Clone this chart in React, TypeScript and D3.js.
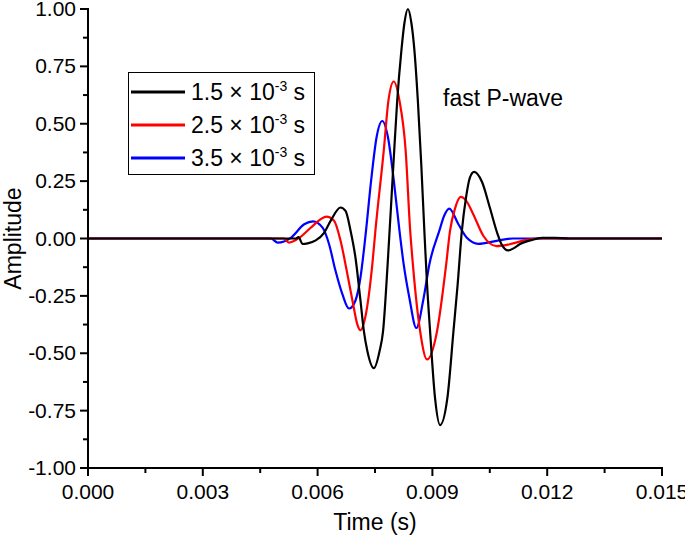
import React, { useEffect, useRef } from 'react';
import * as d3 from 'd3';

// time (s), amplitude
const wave15: [number, number][] = [
    [0, 0], [0.00478, 0], [0.00543, 0], [0.0055, 0.006], [0.00561, -0.024], [0.00574, -0.021],
    [0.00595, -0.008], [0.00617, 0.025], [0.00634, 0.077], [0.0066, 0.135], [0.00673, 0.12],
    [0.00686, 0.035], [0.00699, -0.084], [0.00712, -0.27], [0.00721, -0.405], [0.0073, -0.49],
    [0.00747, -0.565], [0.00762, -0.49], [0.00771, -0.405], [0.00783, -0.113], [0.00798, 0.32],
    [0.00808, 0.6], [0.00819, 0.82], [0.00827, 0.94], [0.00836, 1.0], [0.00845, 0.94],
    [0.00853, 0.82], [0.00862, 0.6], [0.00871, 0.32], [0.00879, 0.033], [0.00886, -0.2],
    [0.00894, -0.405], [0.00907, -0.697], [0.0092, -0.813], [0.00939, -0.697], [0.00955, -0.405],
    [0.00966, -0.2], [0.00977, 0.033], [0.00988, 0.18], [0.00998, 0.265], [0.01009, 0.29],
    [0.0103, 0.245], [0.0105, 0.135], [0.01071, 0.016], [0.01081, -0.026],
    [0.01098, -0.052], [0.01113, -0.042], [0.01128, -0.025], [0.01163, -0.005], [0.01188, 0.003],
    [0.01219, 0.003], [0.01258, 0], [0.015, 0]
];

const wave25: [number, number][] = [
    [0, 0], [0.00512, 0], [0.00525, -0.018], [0.00552, 0.003], [0.00582, 0.047], [0.00608, 0.084],
    [0.00623, 0.095], [0.00643, 0.077], [0.0066, -0.01], [0.00678, -0.157], [0.00691, -0.27],
    [0.00704, -0.375], [0.00712, -0.4], [0.00725, -0.34], [0.00743, -0.113], [0.00751, 0.033],
    [0.00773, 0.385], [0.00785, 0.6], [0.00799, 0.684], [0.00814, 0.6], [0.0083, 0.385],
    [0.00842, 0.033], [0.00849, -0.113], [0.00868, -0.405], [0.00886, -0.527], [0.00912, -0.405],
    [0.00936, -0.113], [0.00946, 0.033], [0.00959, 0.13], [0.00974, 0.181], [0.00988, 0.165],
    [0.01007, 0.105], [0.01033, 0.012], [0.01068, -0.033], [0.01102, -0.025], [0.01146, -0.006],
    [0.0118, 0], [0.015, 0]
];

const wave35: [number, number][] = [
    [0, 0], [0.00478, 0], [0.00496, -0.018], [0.0053, 0.003], [0.00565, 0.062], [0.00588, 0.075],
    [0.00613, 0.047], [0.0063, -0.025], [0.00647, -0.142], [0.00665, -0.244], [0.00682, -0.305],
    [0.00699, -0.27], [0.00712, -0.17], [0.00725, 0.01], [0.0074, 0.254], [0.00754, 0.44],
    [0.00769, 0.512], [0.00784, 0.44], [0.00799, 0.254], [0.00814, 0.033], [0.00825, -0.113],
    [0.0084, -0.26], [0.00858, -0.39], [0.00877, -0.26], [0.00892, -0.113], [0.00918, 0.033],
    [0.00931, 0.1], [0.00944, 0.13], [0.00968, 0.062], [0.0099, 0.003], [0.0102, -0.023],
    [0.01068, -0.01], [0.0111, 0], [0.015, 0]
];

const seriesNames = ["1.5", "2.5", "3.5"];
const seriesColors = ["#000000", "#ff0000", "#0000ff"];
const seriesData = [wave15, wave25, wave35];

const xTicks = [0, 0.003, 0.006, 0.009, 0.012, 0.015];
const yTicks = [-1, -0.75, -0.5, -0.25, 0, 0.25, 0.5, 0.75, 1];

export default function App() {
    const chartRef = useRef<SVGSVGElement>(null);

    useEffect(() => {
        if (!chartRef.current) return;
        const svg = d3.select(chartRef.current);
        svg.selectAll("*").remove();

        const font = "'Liberation Sans', Arial, sans-serif";
        const left = 88, right = 662, top = 9, bottom = 468;

        const x = d3.scaleLinear().domain([0, 0.015]).range([left, right]);
        const y = d3.scaleLinear().domain([-1, 1]).range([bottom, top]);

        const line = d3.line<[number, number]>()
            .x(d => x(d[0]))
            .y(d => y(d[1]))
            .curve(d3.curveMonotoneX);

        // draw order: blue, red, black on top
        [2, 1, 0].forEach(i => {
            svg.append("path")
                .datum(seriesData[i])
                .attr("d", line)
                .attr("fill", "none")
                .attr("stroke", seriesColors[i])
                .attr("stroke-width", 2.2)
                .attr("stroke-linejoin", "round");
        });

        // minor ticks
        const xMinor = d3.range(0.0015, 0.015, 0.003);
        const yMinor = d3.range(-0.875, 1, 0.25);

        const axes = svg.append("g").attr("stroke", "#000").attr("stroke-width", 2);
        axes.append("line").attr("x1", left).attr("x2", right + 1).attr("y1", bottom).attr("y2", bottom);
        axes.append("line").attr("x1", left).attr("x2", left).attr("y1", top - 1).attr("y2", bottom);

        xTicks.forEach(t => {
            axes.append("line").attr("x1", x(t)).attr("x2", x(t)).attr("y1", bottom).attr("y2", bottom + 8);
        });
        xMinor.forEach(t => {
            axes.append("line").attr("x1", x(t)).attr("x2", x(t)).attr("y1", bottom).attr("y2", bottom + 5);
        });
        yTicks.forEach(v => {
            axes.append("line").attr("x1", left - 8).attr("x2", left).attr("y1", y(v)).attr("y2", y(v));
        });
        yMinor.forEach(v => {
            axes.append("line").attr("x1", left - 5).attr("x2", left).attr("y1", y(v)).attr("y2", y(v));
        });

        // tick labels
        xTicks.forEach(t => {
            svg.append("text")
                .attr("x", x(t))
                .attr("y", bottom + 31)
                .attr("text-anchor", "middle")
                .style("font-family", font)
                .style("font-size", "21px")
                .text(t.toFixed(3));
        });
        yTicks.forEach(v => {
            svg.append("text")
                .attr("x", left - 12)
                .attr("y", y(v) + 7)
                .attr("text-anchor", "end")
                .style("font-family", font)
                .style("font-size", "21px")
                .text(v.toFixed(2));
        });

        // axis titles
        svg.append("text")
            .attr("x", (left + right) / 2)
            .attr("y", 530)
            .attr("text-anchor", "middle")
            .style("font-family", font)
            .style("font-size", "23px")
            .text("Time (s)");

        svg.append("text")
            .attr("transform", `translate(21,${(top + bottom) / 2}) rotate(-90)`)
            .attr("text-anchor", "middle")
            .style("font-family", font)
            .style("font-size", "23px")
            .text("Amplitude");

        svg.append("text")
            .attr("x", 443)
            .attr("y", 106)
            .style("font-family", font)
            .style("font-size", "23px")
            .text("fast P-wave");

        // legend
        const legend = svg.append("g");
        legend.append("rect")
            .attr("x", 128.5).attr("y", 72.5)
            .attr("width", 186).attr("height", 102)
            .attr("fill", "#fff")
            .attr("stroke", "#000")
            .attr("stroke-width", 1);

        seriesNames.forEach((name, i) => {
            const ly = 92 + i * 33;
            legend.append("line")
                .attr("x1", 131).attr("x2", 185)
                .attr("y1", ly).attr("y2", ly)
                .attr("stroke", seriesColors[i])
                .attr("stroke-width", 3);
            const txt = legend.append("text")
                .attr("x", 191)
                .attr("y", ly + 8)
                .style("font-family", font)
                .style("font-size", "23px");
            txt.append("tspan").text(`${name} \u00d7 10`);
            txt.append("tspan").attr("dy", -9).style("font-size", "14px").text("-3");
            txt.append("tspan").attr("dy", 9).text(" s");
        });
    }, []);

    return (
        <div style={{ position: "absolute", left: 0, top: 0 }}>
            <svg ref={chartRef} width={685} height={540} style={{ display: "block", background: "#fff" }}></svg>
        </div>
    );
}
